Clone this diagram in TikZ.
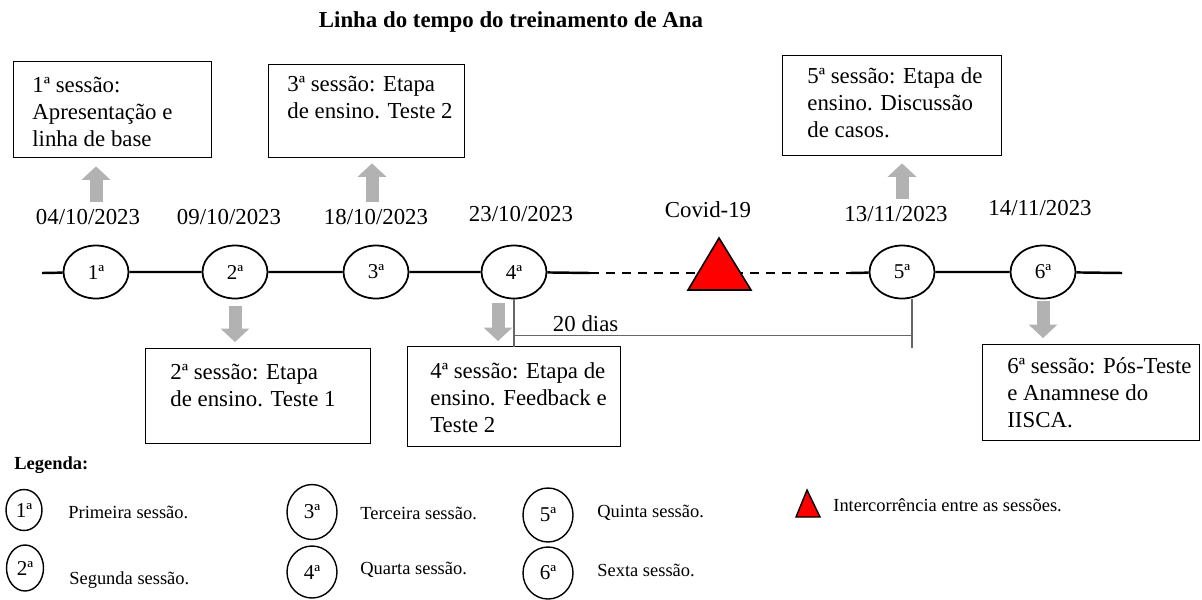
\documentclass[tikz,border=0pt]{standalone}
\usepackage{fontspec}
\setmainfont{Liberation Serif}
\usetikzlibrary{positioning,shapes.geometric,arrows.meta}

\tikzset{
  sess/.style={draw, ellipse, line width=1pt, minimum width=1.3cm, minimum height=1.06cm, inner sep=0pt, font=\fontsize{12}{14}\selectfont},
  legsess/.style={draw, ellipse, line width=0.8pt, inner sep=0pt, font=\fontsize{12}{14}\selectfont},
  datelbl/.style={inner sep=2pt, font=\fontsize{13}{15}\selectfont},
  sbox/.style={draw, line width=0.8pt, anchor=north west, inner sep=0pt},
  stext/.style={anchor=north west, align=left, inner sep=0pt, font=\fontsize{13}{15.4}\selectfont},
  garrow/.style={line width=0.26cm, color=gray!60, -{Triangle[length=0.27cm,width=0.58cm,line width=0pt]}},
  bracket/.style={line width=0.6pt, color=black!60},
  legtext/.style={anchor=west, inner sep=0pt, font=\fontsize{10.5}{12}\selectfont},
  covid/.style={draw, line width=0.9pt, fill=red, line join=miter}
}

\begin{document}
\begin{tikzpicture}[x=0.02cm, y=-0.02cm]
\useasboundingbox (0,0) rectangle (1202,599);

% title
\node[font=\bfseries\fontsize{13}{15}\selectfont] (title) at (511,22) {Linha do tempo do treinamento de Ana};

% sessions
\node[sess] (e1) at (96,272) {1ª};
\node[sess] (e2) at (235,272) {2ª};
\node[sess] (e3) at (376,272) {3ª};
\node[sess] (e4) at (514,272) {4ª};
\node[sess] (e5) at (902,272) {5ª};
\node[sess] (e6) at (1043,272) {6ª};

\coordinate (start) at (42,273);
\coordinate (stop) at (1122,273);
\coordinate (c1) at (590,273);
\coordinate (c2) at (850,273);

% dates
\node[datelbl] (d1) at (88,217) {04/10/2023};
\node[datelbl] (d2) at (229,217) {09/10/2023};
\node[datelbl] (d3) at (376,217) {18/10/2023};
\node[datelbl] (d4) at (521,214) {23/10/2023};
\node[datelbl] (cv) at (708,210) {Covid-19};
\node[datelbl] (d5) at (896,214) {13/11/2023};
\node[datelbl] (d6) at (1040,208) {14/11/2023};

% boxes
\node[sbox, minimum width=3.96cm, minimum height=1.92cm] (b1) at (13,61) {};
\node[stext] (t1) at ([shift={(19,16)}]b1.north west) {1ª sessão:\\Apresentação e\\linha de base};
\node[sbox, minimum width=3.92cm, minimum height=1.86cm] (b3) at (268,64) {};
\node[stext] (t3) at ([shift={(19,12)}]b3.north west) {3ª sessão: Etapa\\de ensino. Teste 2};
\node[sbox, minimum width=4.38cm, minimum height=2cm] (b5) at (782,55) {};
\node[stext] (t5) at ([shift={(25,12)}]b5.north west) {5ª sessão: Etapa de\\ensino. Discussão\\de casos.};
\node[sbox, minimum width=4.5cm, minimum height=1.9cm] (b2) at (145,348) {};
\node[stext] (t2) at ([shift={(25,16)}]b2.north west) {2ª sessão: Etapa\\de ensino. Teste 1};
\node[sbox, minimum width=4.26cm, minimum height=2cm] (b4) at (407,346) {};
\node[stext] (t4) at ([shift={(23,16)}]b4.north west) {4ª sessão: Etapa de\\ensino. Feedback e\\Teste 2};
\node[sbox, minimum width=4.34cm, minimum height=1.92cm] (b6) at (982,344) {};
\node[stext] (t6) at ([shift={(25,13)}]b6.north west) {6ª sessão: Pós-Teste\\e Anamnese do\\IISCA.};

% timeline
\draw[line width=1.4pt] (start) -- (e1) -- (e2) -- (e3) -- (e4);
\draw[line width=1.4pt] (e4) -- (c1);
\draw[line width=1.4pt, dash pattern=on 0.18cm off 0.14cm] (c1) -- (c2);
\draw[line width=1.4pt] (c2) -- (e5) -- (e6) -- (stop);
\path[covid] (688,290) -- (719,238) -- (751,290) -- cycle;

% arrows
\draw[garrow, shorten <=0.06cm, shorten >=0.16cm] (d1.north -| e1) -- (b1.south -| e1);
\draw[garrow, shorten <=0.06cm, shorten >=0.1cm] ([xshift=-0.08cm]d3.north) -- ([xshift=-0.08cm]d3.north |- b3.south);
\draw[garrow, shorten <=0.06cm, shorten >=0.14cm] (d5.north -| e5) -- (b5.south -| e5);
\draw[garrow, shorten <=0.14cm, shorten >=0.12cm] (e2.south) -- (e2 |- b2.north);
\draw[garrow, shorten <=0.08cm, shorten >=0.1cm] ([xshift=-0.32cm]e4.south) -- ([xshift=-0.32cm]e4.south |- b4.north);
\draw[garrow, shorten <=0.04cm, shorten >=0.12cm] (e6.south) -- (e6 |- b6.north);

% 20 dias
\draw[bracket] (e4.south) -- ++(0,48);
\draw[bracket] ([xshift=0.2cm]e5.south) -- ++(0,49);
\draw[bracket] (e4.south) ++(0,36) -- node[pos=0.18, above, inner sep=2pt, text=black, font=\fontsize{13}{15}\selectfont] {20 dias} ++(398,0);

% legend
\node[anchor=west, inner sep=0pt, font=\bfseries\fontsize{10.5}{12}\selectfont] (leg) at (14,465) {Legenda:};
\node[legsess, minimum width=0.72cm, minimum height=0.82cm] (l1) at (24,510) {1ª};
\node[legsess, minimum width=0.74cm, minimum height=0.92cm] (l2) at (25,568) {2ª};
\node[legsess, minimum width=1cm, minimum height=1.1cm] (l3) at (312,512) {3ª};
\node[legsess, minimum width=1cm, minimum height=1.04cm] (l4) at (312,572) {4ª};
\node[legsess, minimum width=1cm, minimum height=1.08cm] (l5) at (548,515) {5ª};
\node[legsess, minimum width=1cm, minimum height=1.04cm] (l6) at (548,573) {6ª};
\node[legtext] (g1) at (68,512) {Primeira sessão.};
\node[legtext] (g2) at (69,580) {Segunda sessão.};
\node[legtext] (g3) at (360,513) {Terceira sessão.};
\node[legtext] (g4) at (360,570) {Quarta sessão.};
\node[legtext] (g5) at (597,513) {Quinta sessão.};
\node[legtext] (g6) at (597,570) {Sexta sessão.};
\path[covid, line width=0.8pt] (796,517) -- (807,490) -- (820,517) -- cycle;
\node[legtext] (g7) at (833,505) {Intercorrência entre as sessões.};

\end{tikzpicture}
\end{document}
